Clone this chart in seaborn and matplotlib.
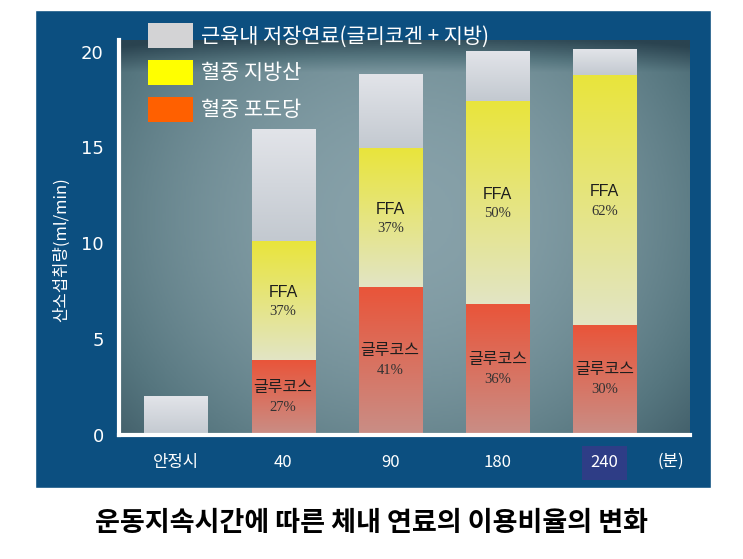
import numpy as np
import pandas as pd
import matplotlib.pyplot as plt
from matplotlib.patches import Patch, Rectangle
from matplotlib.colors import LinearSegmentedColormap
import seaborn as sns

# data
categories = ['안정시', '40', '90', '180', '240']
glucose = [0.0, 3.9, 7.7, 6.8, 5.7]
ffa = [0.0, 6.2, 7.2, 10.6, 13.05]
muscle = [2.0, 5.8, 3.9, 2.6, 1.35]
glucose_pct = ['', '27%', '41%', '36%', '30%']
ffa_pct = ['', '37%', '37%', '50%', '62%']
legend_labels = ['근육내 저장연료(글리코겐 + 지방)', '혈중 지방산', '혈중 포도당']
yticks = [0, 5, 10, 15, 20]

df = pd.DataFrame({'time': categories, 'glucose': glucose, 'ffa': ffa, 'muscle': muscle})
df['g_top'] = df['glucose']
df['f_top'] = df['glucose'] + df['ffa']
df['total'] = df['f_top'] + df['muscle']

sns.set_theme(style='white')
plt.rcParams['font.family'] = ['Noto Sans CJK KR', 'DejaVu Sans']

BLUE = '#0c4f80'
fig = plt.figure(figsize=(7.43, 5.59), dpi=100)
fig.patch.set_facecolor('white')
fig.patches.append(Rectangle((35 / 743, 1 - 488 / 559), 676 / 743, 478 / 559,
                             transform=fig.transFigure, facecolor=BLUE, zorder=-5))

ax = fig.add_axes([119 / 743, 1 - 435 / 559, (690 - 119) / 743, (435 - 40) / 559])
ax.set_zorder(2)
XL, YL = (-0.533, 4.80), (0, 20.6)

# photo-like background inside the plot
yy, xx = np.mgrid[0:1:200j, 0:1:300j]
bg = 1 - 0.9 * ((xx - 0.5) ** 2 + 0.6 * (yy - 0.45) ** 2)
bg = bg * (0.6 + 0.4 * np.clip(yy / 0.08, 0, 1))
cmap_bg = LinearSegmentedColormap.from_list('bg', ['#2a4350', '#56767f', '#87a1a9'])
ax.imshow(bg, cmap=cmap_bg, extent=[*XL, *YL], aspect='auto',
          origin='upper', zorder=0, vmin=0.45, vmax=1.0)

w = 0.59
bar_kw = dict(width=w, saturation=1, linewidth=0, edgecolor='none', ax=ax)
sns.barplot(data=df, x='time', y='total', color='#d9dde2', zorder=2, **bar_kw)
sns.barplot(data=df, x='time', y='f_top', color='#e8e673', zorder=3, **bar_kw)
sns.barplot(data=df, x='time', y='g_top', color='#e8704a', zorder=4, **bar_kw)

# vertical colour gradients over each visible segment
grad = np.linspace(1, 0, 100).reshape(-1, 1)
cm_gray = LinearSegmentedColormap.from_list('g', ['#c3c9d0', '#e2e4e9'])
cm_yel = LinearSegmentedColormap.from_list('y', ['#e2e5c4', '#e9e43c'])
cm_org = LinearSegmentedColormap.from_list('o', ['#c98e86', '#e9553a'])
segments = [(df['f_top'], df['total'], cm_gray, 2.5),
            (df['g_top'], df['f_top'], cm_yel, 3.5),
            (pd.Series([0.0] * len(df)), df['g_top'], cm_org, 4.5)]
for k, (lo, hi, cm, z) in enumerate(segments):
    for i, bar in enumerate(ax.containers[k]):
        if hi[i] - lo[i] <= 0:
            continue
        x0 = bar.get_x()
        ax.imshow(grad, cmap=cm, extent=[x0, x0 + bar.get_width(), lo[i], hi[i]],
                  aspect='auto', zorder=z, vmin=0, vmax=1)
ax.set_xlim(*XL)
ax.set_ylim(*YL)

for i in range(len(categories)):
    if ffa_pct[i]:
        mid = glucose[i] + ffa[i] / 2
        ax.text(i, mid + 0.45, 'FFA', ha='center', va='center', fontsize=11.5,
                color='#1e1e1e', family=['Liberation Sans', 'DejaVu Sans'], zorder=6)
        ax.text(i, mid - 0.55, ffa_pct[i], ha='center', va='center', fontsize=10.5,
                color='#333333', family=['Liberation Serif'], zorder=6)
    if glucose_pct[i]:
        mid = glucose[i] / 2
        ax.text(i, mid + 0.55, '글루코스', ha='center', va='center', fontsize=11.5,
                color='#1e1e1e', zorder=6)
        ax.text(i, mid - 0.5, glucose_pct[i], ha='center', va='center', fontsize=10.5,
                color='#333333', family=['Liberation Serif'], zorder=6)

for s in ['top', 'right']:
    ax.spines[s].set_visible(False)
for s in ['left', 'bottom']:
    ax.spines[s].set_color('white')
    ax.spines[s].set_linewidth(3)
    ax.spines[s].set_zorder(7)

ax.set_yticks(yticks)
ax.tick_params(axis='y', direction='in', length=9, width=3, color='white',
               labelcolor='white', labelsize=13, pad=11)
ax.tick_params(axis='x', length=0, labelcolor='white', labelsize=12, pad=14)
for lab in ax.get_yticklabels():
    lab.set_family(['Liberation Sans Narrow', 'DejaVu Sans'])
for lab in ax.get_xticklabels():
    lab.set_family(['Liberation Sans Narrow', 'Noto Sans CJK KR'])
    if lab.get_text() == '240':
        lab.set_bbox(dict(facecolor='#2e3d86', edgecolor='none', pad=6))
        lab.set_zorder(8)

ax.set_xlabel('')
ax.set_ylabel('산소섭취량(ml/min)', color='white', fontsize=12)
ax.yaxis.set_label_coords(-0.085, 0.47)
ax.text(4.62, -1.35, '(분)', color='white', fontsize=12, ha='center', va='center', clip_on=False)

handles = [Patch(facecolor='#d3d3d5', edgecolor='none'),
           Patch(facecolor='#ffff00', edgecolor='none'),
           Patch(facecolor='#ff6000', edgecolor='none')]
leg = fig.legend(handles, legend_labels, loc='upper left', bbox_to_anchor=(148 / 743, 1 - 23 / 559),
                 frameon=False, fontsize=15, handlelength=2.15, handleheight=1.5,
                 labelspacing=0.55, handletextpad=0.4, borderpad=0, borderaxespad=0)
for t in leg.get_texts():
    t.set_color('white')

fig.text(372 / 743, 1 - 523 / 559, '운동지속시간에 따른 체내 연료의 이용비율의 변화',
         ha='center', va='center', fontsize=19.5, fontweight='bold', color='black')

fig.savefig('out.png', dpi=100)
